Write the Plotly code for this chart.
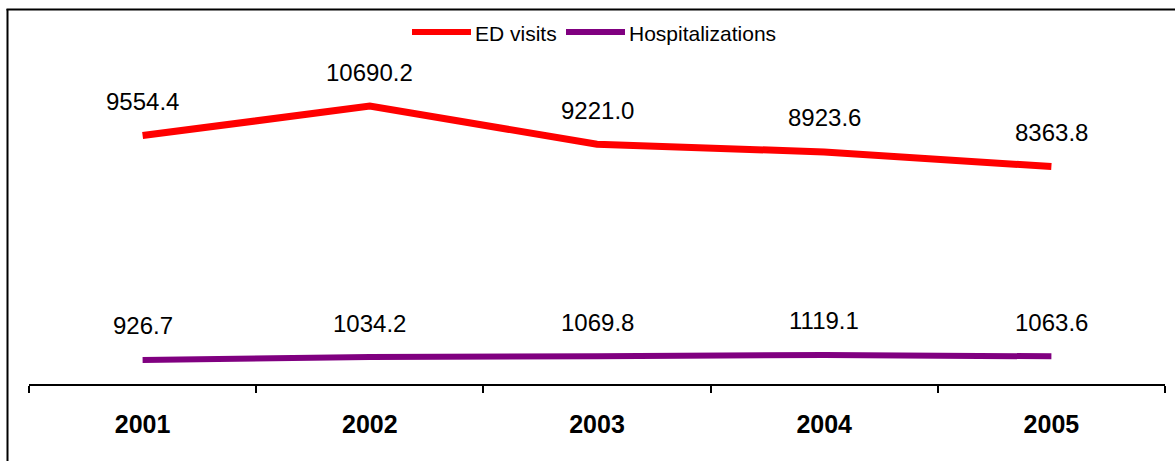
import plotly.graph_objects as go

# Chart data
years = ["2001", "2002", "2003", "2004", "2005"]
ed_visits = [9554.4, 10690.2, 9221.0, 8923.6, 8363.8]
hospitalizations = [926.7, 1034.2, 1069.8, 1119.1, 1063.6]

series_names = ["ED visits", "Hospitalizations"]
series_colors = ["#FF0000", "#800080"]

W, H = 1175, 461
ML, MR, MT, MB = 29, 10, 72, 77
PW, PH = W - ML - MR, H - MT - MB


def px_x(px):
    return (px - ML) / PW


def px_y(py):
    return (H - MB - py) / PH


FONT = "Arial, Liberation Sans, sans-serif"

fig = go.Figure()
fig.add_trace(go.Scatter(x=years, y=ed_visits, mode="lines", name=series_names[0],
                         line=dict(color=series_colors[0], width=7), showlegend=False))
fig.add_trace(go.Scatter(x=years, y=hospitalizations, mode="lines", name=series_names[1],
                         line=dict(color=series_colors[1], width=6), showlegend=False))

annotations = []
for series in (ed_visits, hospitalizations):
    for i, v in enumerate(series):
        annotations.append(dict(x=i, y=v, xref="x", yref="y", text=f"{v:.1f}",
                                showarrow=False, yshift=34,
                                font=dict(family=FONT, size=24, color="black")))

# Legend drawn as line samples with labels
shapes = []
legend_items = [(412, 471, 473), (566, 625, 627)]
for (x0, x1, tx), name, col in zip(legend_items, series_names, series_colors):
    shapes.append(dict(type="line", xref="paper", yref="paper",
                       x0=px_x(x0), x1=px_x(x1), y0=px_y(32), y1=px_y(32),
                       line=dict(color=col, width=6)))
    annotations.append(dict(x=px_x(tx), y=px_y(33), xref="paper", yref="paper",
                            text=name, showarrow=False, xanchor="left", yanchor="middle",
                            font=dict(family=FONT, size=21, color="black")))

# Outer frame (top and left edges)
shapes.append(dict(type="line", xref="paper", yref="paper",
                   x0=px_x(6.5), x1=px_x(W + 5), y0=px_y(9.5), y1=px_y(9.5),
                   line=dict(color="black", width=2)))
shapes.append(dict(type="line", xref="paper", yref="paper",
                   x0=px_x(7.5), x1=px_x(7.5), y0=px_y(9), y1=px_y(H + 5),
                   line=dict(color="black", width=2)))

fig.update_layout(
    width=W, height=H,
    margin=dict(l=ML, r=MR, t=MT, b=MB, pad=0),
    paper_bgcolor="white", plot_bgcolor="white",
    showlegend=False,
    shapes=shapes,
    annotations=annotations,
    xaxis=dict(type="category", range=[-0.5, 4.5], showline=True, linecolor="black",
               linewidth=2, ticks="outside", tickson="boundaries", ticklen=7,
               tickwidth=2, tickcolor="black", showgrid=False, zeroline=False,
               ticklabelstandoff=17,
               tickfont=dict(family=FONT, size=25, color="black", weight="bold")),
    yaxis=dict(range=[0, 12000], visible=False, showgrid=False, zeroline=False),
)

fig.write_html("out.html")
